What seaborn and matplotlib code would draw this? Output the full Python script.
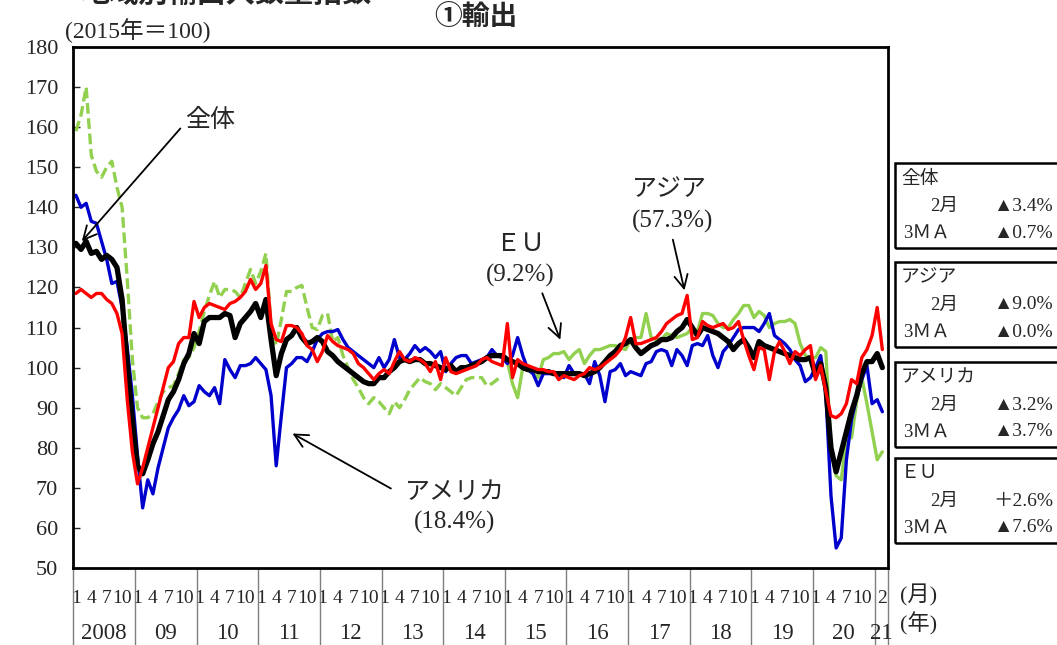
import numpy as np
import pandas as pd
import matplotlib
matplotlib.use("Agg")
import matplotlib.pyplot as plt
import matplotlib.transforms as mtrans
from matplotlib.patches import Rectangle
import seaborn as sns

sns.set_theme(style="white")
plt.rcParams['font.family'] = ['Liberation Serif', 'Noto Sans CJK JP', 'DejaVu Sans']

# 月次データ 2008年1月〜2021年2月 (2015年=100)
year_labels = ['2008', '09', '10', '11', '12', '13', '14', '15', '16', '17', '18', '19', '20', '21']

zentai = [131, 129.5, 131.5, 128.5, 129, 127, 128, 127, 125, 117, 101, 87,
          75.5, 73.5, 77, 81, 84, 88, 92, 94, 97, 101, 103.5, 108.5,
          106, 111.5, 112.5, 112.5, 112.5, 113.5, 113, 107.5, 111, 112.5, 114, 116,
          112.5, 117, 107, 98, 103.5, 107, 108, 110, 107.5, 106, 106.5, 107.5,
          106.5, 104, 103, 101.5, 100.5, 99.5, 98.5, 97.5, 96.5, 96, 96, 97.5,
          97.5, 99, 100, 101.5, 102, 101.5, 102, 102, 101, 101, 100.5, 100,
          99.5, 100.5, 99, 100, 100, 100.5, 101, 101.5, 102.5, 103, 103, 103,
          102, 101.5, 101, 100, 99.5, 99.5, 99, 99, 99, 98.5, 98.5, 98.5,
          98.5, 98.5, 98.5, 98, 98.5, 99, 100, 101.5, 103, 104, 105.5, 106,
          107, 105, 103.5, 104.5, 105.5, 106, 107, 107, 107.5, 109, 110, 112,
          110, 108, 110, 109.5, 109, 108.5, 107.5, 106.5, 104.5, 106, 107, 105,
          102.5, 106.5, 105.5, 105, 104.5, 104, 103.5, 103, 102.5, 102, 102, 102.5,
          98, 101, 95, 80, 74, 79, 84, 89, 93, 98.5, 101.5, 101.5,
          103.5, 100]

asia = [118.5, 119.5, 118.5, 117.5, 118.5, 118.5, 117, 116, 113.5, 108.5, 92, 79,
        71, 75, 80, 85, 90, 95, 100, 101.5, 106, 107.5, 107.5, 116.5,
        112.5, 115, 116, 115.5, 115, 114.5, 116, 116.5, 117.5, 119, 122, 119.5,
        121, 125.5, 111, 107, 106.5, 110.5, 110.5, 110, 108.5, 105.5, 104.5, 101.5,
        104, 108, 106.5, 105.5, 105, 104.5, 103.5, 101, 100, 98.5, 97, 98.5,
        99.5, 98.5, 101.5, 104, 102, 101.5, 102.5, 102, 101, 99, 101.5, 97,
        102.5, 99, 98.5, 99, 99.5, 100, 100.5, 102, 102.5, 101.5, 101, 100.5,
        111, 97.5, 102, 101, 100.5, 100, 99.5, 99.5, 99, 99, 97, 98,
        97.5, 97, 98, 98.5, 100, 99.5, 100, 101, 102, 103, 104.5, 107.5,
        112.5, 106, 106, 106.5, 107, 107.5, 109, 111, 112, 113, 113.5, 118,
        107, 107.5, 111.5, 110.5, 110, 110.5, 111, 109.5, 110, 111.5, 107, 103,
        99.5, 105, 104.5, 97, 104, 106.5, 104, 101, 104, 103, 104.5, 105.5,
        97, 100.5, 94, 88, 87.5, 88.5, 91, 97, 96, 102.5, 104.5, 108,
        115, 104.5]

america = [143, 140, 141, 136.5, 136, 131.5, 127, 121, 121.5, 115, 105, 93,
           78, 65, 72, 68.5, 75, 80, 85, 87.5, 89.5, 93, 90.5, 91.5,
           95.5, 94, 93, 95, 91, 102, 99.5, 97.5, 100.5, 100.5, 101, 102.5,
           101, 99.5, 93, 75.5, 88, 100, 101, 102.5, 102.5, 101.5, 104, 107,
           108.5, 109, 109, 109.5, 107, 105, 104, 103, 102, 101, 100, 102.5,
           100, 102, 107, 102.5, 102, 103.5, 105.5, 104, 105, 104, 102.5, 104,
           99, 101, 102.5, 103, 103, 101, 101.5, 102, 102.5, 104.5, 103, 102.5,
           101, 103, 107.5, 103, 99.5, 98.5, 95.5, 98.5, 98.5, 98.5, 98, 97.5,
           100.5, 98.5, 98.5, 98.5, 96, 101.5, 98, 91.5, 99, 99.5, 101, 98,
           99, 98.5, 98, 101, 101.5, 104, 104.5, 104, 100.5, 104.5, 103, 100.5,
           105.5, 106, 105.5, 108, 103, 100, 104, 105.5, 107.5, 109.5, 110, 110,
           110, 109, 111, 113.5, 108, 107, 106, 104.5, 102, 100.5, 96.5, 97.5,
           100, 103, 93.5, 68, 55, 57.5, 77, 87, 92.5, 97, 100.5, 91,
           92, 89]

eu = [159, 163, 170, 153, 149, 147.5, 150, 151.5, 145, 140, 122, 102,
      90, 87.5, 87.5, 88.5, 91.5, 94, 95, 95.5, 98.5, 102, 102.5, 105,
      109, 114, 118, 121.5, 117.5, 119.5, 119.5, 119, 117.5, 121, 124.5, 121,
      124, 128.5, 110, 105.5, 112, 119, 119, 120, 120.5, 115, 110, 109.5,
      113, 113.5, 106.5, 107.5, 103, 100, 97, 95, 92.5, 91, 92.5, 91.5,
      90, 88.5, 91.5, 90, 92, 94.5, 96, 97.5, 96.5, 96, 94.5, 96,
      95, 94, 93, 95, 97, 97.5, 97.5, 97.5, 95.5, 96, 97, 98,
      101.5, 96, 92.5, 100, 99.5, 98.5, 97.5, 102, 102.5, 103.5, 103.5, 104,
      102, 103.5, 104.5, 101, 103, 104.5, 104.5, 105, 105.5, 105.5, 105, 104.5,
      107, 107.5, 107.5, 113.5, 107.5, 107, 107, 108.5, 108, 107.5, 108, 108.5,
      110, 109, 113.5, 113.5, 113, 111, 110, 110, 112, 113.5, 115.5, 115.5,
      112.5, 114, 113, 110, 111, 111.5, 111.5, 112, 111, 106, 103, 102.5,
      102.5, 105, 104, 80, 73, 72, 82.5, 82.5, 91.5, 97.5, 91, 84,
      77, 79]

# 右側の伸び率ボックス
box_titles = ['全体', 'アジア', 'アメリカ', 'ＥＵ']
box_month = ['▲3.4%', '▲9.0%', '▲3.2%', '＋2.6%']
box_3ma = ['▲0.7%', '▲0.0%', '▲3.7%', '▲7.6%']

n = len(zentai)
idx = np.arange(n)
months = idx % 12 + 1
df = pd.DataFrame({'idx': idx, '全体': zentai, 'アジア': asia, 'アメリカ': america, 'EU': eu})
eu_break = 84  # 2015年1月から実線

fig = plt.figure(figsize=(10.57, 6.45), dpi=100)
ax = fig.add_axes([73.3 / 1057, 1 - 568 / 645, (888 - 73.3) / 1057, (568 - 47) / 645])

# 系列
green = '#92D050'
sns.lineplot(data=df.iloc[:eu_break], x='idx', y='EU', color=green, lw=2.4,
             ax=ax, legend=False).lines[-1].set_dashes((3.2, 1.4))
sns.lineplot(data=df.iloc[eu_break:], x='idx', y='EU', color=green, lw=2.4, ax=ax, legend=False)
sns.lineplot(data=df, x='idx', y='アメリカ', color='#0000CC', lw=2.4, ax=ax, legend=False)
sns.lineplot(data=df, x='idx', y='全体', color='black', lw=3.8, ax=ax, legend=False)
sns.lineplot(data=df, x='idx', y='アジア', color='#FF0000', lw=2.4, ax=ax, legend=False)

ax.set_xlim(-0.5, 158.1)
ax.set_ylim(50, 180)
ax.set_xlabel('')
ax.set_ylabel('')
ax.set_yticks(range(50, 181, 10))
ax.tick_params(axis='y', direction='in', length=5, width=1, pad=11, labelsize=16, left=True)

# 月の目盛ラベル
tick_pos = [i for i in idx if months[i] in (1, 4, 7, 10) and i < 156] + [n - 1]
ax.set_xticks(tick_pos)
ax.set_xticklabels([str(months[i]) for i in tick_pos], fontsize=14)
ax.tick_params(axis='x', length=0, pad=16)

for s in ax.spines.values():
    s.set_linewidth(2)
    s.set_color('black')

# 年の区切り線と年ラベル
trans = mtrans.blended_transform_factory(ax.transData, ax.transAxes)
bounds = [12 * k - 0.5 for k in range(len(year_labels))] + [158.1]
for b in bounds:
    ax.plot([b, b], [0, -0.16], transform=trans, color='#7f7f7f', lw=1, clip_on=False)
for k, lab in enumerate(year_labels):
    cx = (bounds[k] + bounds[k + 1]) / 2
    ax.text(cx, -0.125, lab, transform=trans, ha='center', va='center', fontsize=16.5)

fig.text(900 / 1057, 1 - 595 / 645, '(月)', ha='left', va='center', fontsize=16)
fig.text(900 / 1057, 1 - 624 / 645, '(年)', ha='left', va='center', fontsize=16)

# タイトル類
fig.text(80 / 1057, 1 + 7 / 645, '地域別輸出入数量指数', ha='left', va='center',
         fontsize=21, fontweight='bold', family='Noto Sans CJK JP')
fig.text(476 / 1057, 1 - 17 / 645, '①輸出', ha='center', va='center',
         fontsize=20, fontweight='bold', family='Noto Sans CJK JP')
fig.text(65 / 1057, 1 - 31 / 645, '(2015年＝100)', ha='left', va='center', fontsize=17)

# 注記と矢印
arrow = dict(arrowstyle='->', lw=1.3, color='black', mutation_scale=24)
ax.annotate('', xy=(0.8, 131), xytext=(20.7, 160.2), arrowprops=arrow)
ax.text(21.3, 161.7, '全体', ha='left', va='center', fontsize=18)

ax.annotate('', xy=(41.7, 83.9), xytext=(61.8, 69.5), arrowprops=arrow)
ax.text(73.8, 68.7, 'アメリカ', ha='center', va='center', fontsize=18)
ax.text(73.8, 61.4, '(18.4%)', ha='center', va='center', fontsize=18)

ax.annotate('', xy=(94.5, 106.3), xytext=(90.6, 119.2), arrowprops=arrow)
ax.text(86.5, 130.5, 'ＥＵ', ha='center', va='center', fontsize=18)
ax.text(86.5, 123.0, '(9.2%)', ha='center', va='center', fontsize=18)

ax.annotate('', xy=(118.6, 118.6), xytext=(116.1, 132.6), arrowprops=arrow)
ax.text(115.5, 144.3, 'アジア', ha='center', va='center', fontsize=18)
ax.text(116.2, 136.4, '(57.3%)', ha='center', va='center', fontsize=18)

# 右側ボックス
box_tops = [163, 262, 362, 458]
for top, t, m, ma in zip(box_tops, box_titles, box_month, box_3ma):
    fig.patches.append(Rectangle((895 / 1057, 1 - (top + 85) / 645), 0.2, 85 / 645,
                                 transform=fig.transFigure, fill=False,
                                 edgecolor='black', lw=1.8))
    fig.text(901 / 1057, 1 - (top + 16) / 645, t, ha='left', va='center', fontsize=13.5)
    fig.text(958 / 1057, 1 - (top + 43) / 645, '2月', ha='right', va='center', fontsize=13.5)
    fig.text(1053 / 1057, 1 - (top + 43) / 645, m, ha='right', va='center', fontsize=14)
    fig.text(903 / 1057, 1 - (top + 70) / 645, '3ＭＡ', ha='left', va='center', fontsize=13.5)
    fig.text(1053 / 1057, 1 - (top + 70) / 645, ma, ha='right', va='center', fontsize=14)

fig.savefig('out.png', dpi=100)
